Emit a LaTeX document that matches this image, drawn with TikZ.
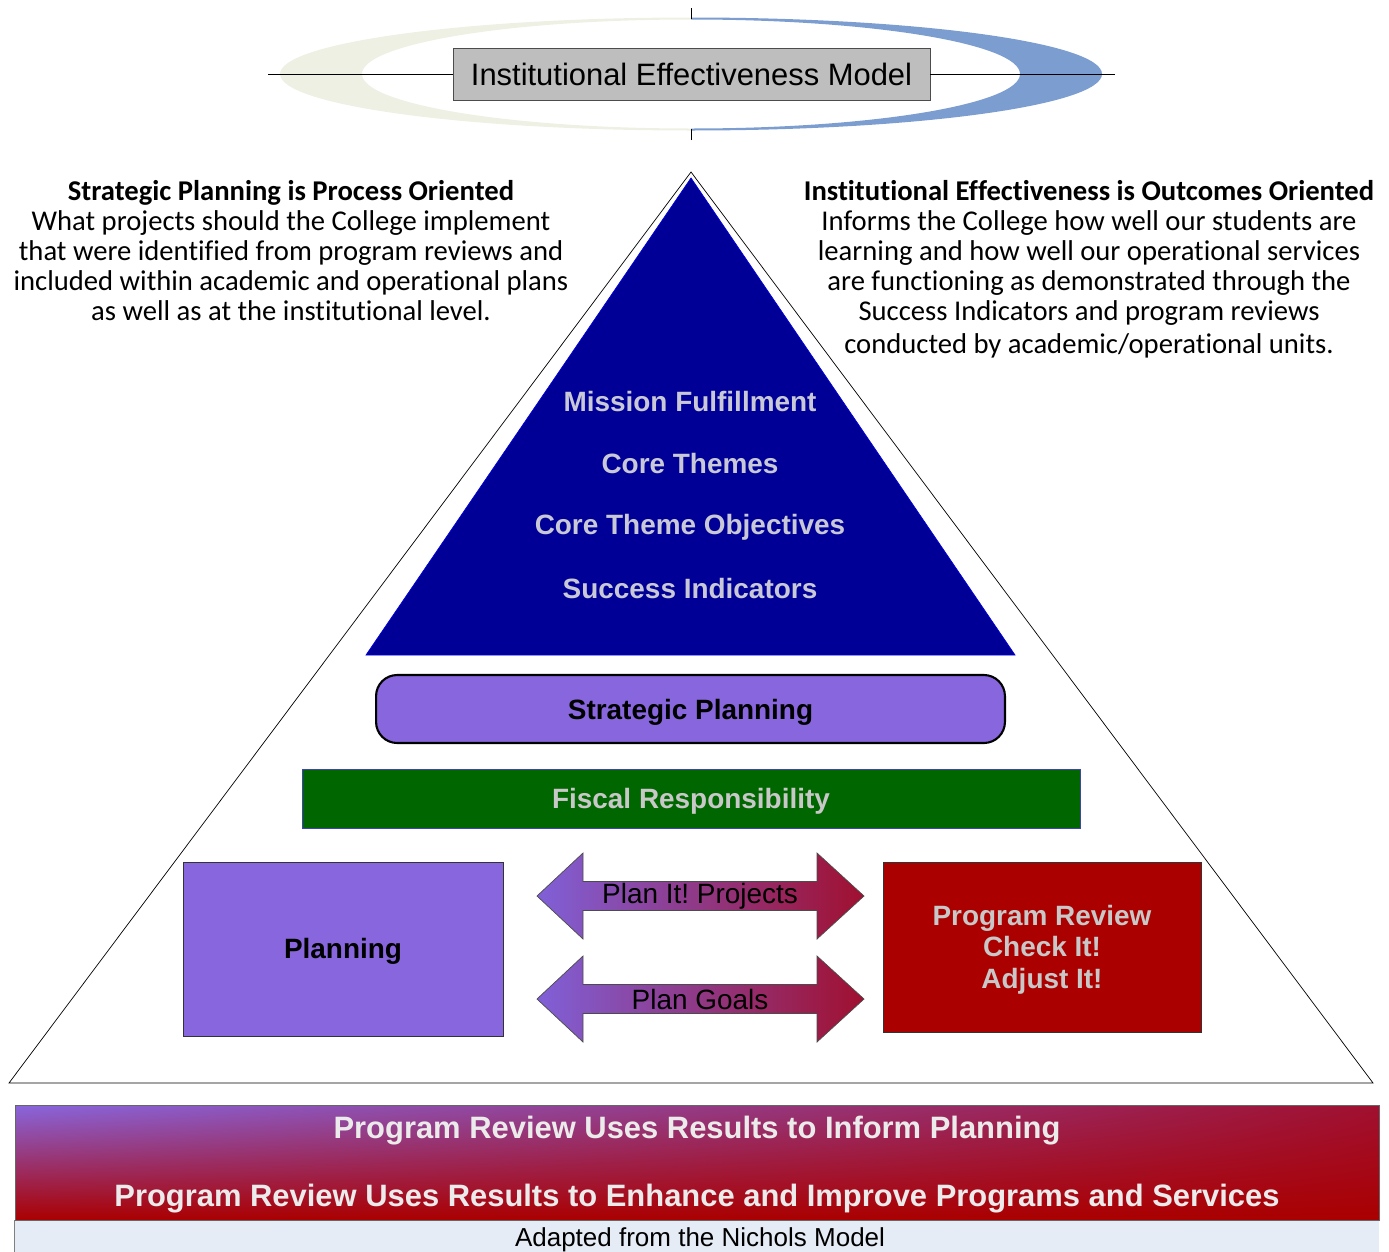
\documentclass[tikz,border=0pt]{standalone}
\usepackage{fontspec}
\setmainfont{Liberation Sans}
\newfontfamily\calibri[Ligatures=NoCommon]{Carlito}
\usetikzlibrary{positioning,shadings}

\definecolor{navytri}{RGB}{0,0,150}
\definecolor{lilac}{RGB}{136,102,221}
\definecolor{prgred}{RGB}{170,0,0}
\definecolor{fiscalgreen}{RGB}{0,102,0}
\definecolor{ringblue}{RGB}{124,157,207}
\definecolor{ringpale}{RGB}{238,240,228}
\definecolor{softgray}{RGB}{200,200,200}
\definecolor{trigray}{RGB}{200,200,215}
\definecolor{footblue}{RGB}{230,236,246}
\definecolor{arrowred}{RGB}{160,16,48}
\definecolor{arrowlilac}{RGB}{128,96,216}

\begin{document}
\begin{tikzpicture}[x=0.02cm,y=-0.02cm,
        big font/.style={font=\fontsize{15.9}{19}\selectfont\bfseries},
        plain font/.style={font=\fontsize{15.9}{19}\selectfont},
        tri label/.style={big font, text=trigray},
        layer box/.style={draw, inner sep=0pt, big font},
        note text/.style={align=center, font=\calibri\fontsize{16.3}{17.07}\selectfont},
        arrow body/.style={left color=arrowlilac, right color=arrowred, draw=black!70, thin}]
        \useasboundingbox (0,0) rectangle (1389,1251);

        % ring round the title
        \begin{scope}
        \clip (0,0) rectangle (691,150);
        \fill[ringpale, even odd rule] (691,74) ellipse [x radius=411, y radius=56.5] (691,74) ellipse [x radius=329, y radius=54.5];
        \end{scope}
        \begin{scope}
        \clip (691,0) rectangle (1389,150);
        \fill[ringblue, even odd rule] (691,74) ellipse [x radius=411, y radius=56.5] (691,74) ellipse [x radius=329, y radius=54.5];
        \end{scope}
        \coordinate (lineL) at (268,74);
        \coordinate (lineR) at (1115,74);
        \coordinate (tickT) at (691,8);
        \coordinate (tickB) at (691,140);
        \node[draw=black!70, fill=softgray!95!black, minimum width=9.54cm, minimum height=1.04cm, inner sep=0pt,
              font=\fontsize{17.6}{20}\selectfont] (title) at (691.5,74) {Institutional Effectiveness Model};
        \draw[thin] (lineL) -- (title.west) (title.east) -- (lineR);
        \draw[thin] (tickT) -- ++(0,11) (tickB) -- ++(0,-11);

        % the pyramid
        \coordinate (apex) at (691,172);
        \coordinate (baseL) at (9,1083);
        \coordinate (baseR) at (1373,1083);
        \draw[thin] (apex) -- (baseR) -- (baseL) -- cycle;
        \coordinate (topA) at (691,178);
        \coordinate (topL) at (366,655);
        \coordinate (topR) at (1015,655);
        \fill[navytri, draw=blue!70!navytri, thin] (topA) -- (topR) -- (topL) -- cycle;
        \node[tri label] (mission) at (690,402) {Mission Fulfillment};
        \node[tri label] (themes) at (690,464) {Core Themes};
        \node[tri label] (objectives) at (690,527.5) {Core Theme Objectives};
        \node[tri label] (indicators) at (690,589) {Success Indicators};

        \node[layer box, fill=lilac, very thick, rounded corners=12pt, minimum width=12.58cm, minimum height=1.36cm, text depth=0pt] (strategic) at (690.5,709) {Strategic Planning};
        \node[layer box, fill=fiscalgreen, draw=blue!50!gray, text=softgray, minimum width=15.56cm, minimum height=1.18cm, text depth=0pt] (fiscal) at (691,798.5) {Fiscal Responsibility};
        \node[layer box, fill=lilac, draw=black!80, minimum width=6.4cm, minimum height=3.48cm] (planning) at (343,949) {};
        \node[big font] (planlabel) at (343,951.5) {Planning};
        \node[layer box, fill=prgred, draw=black!80, minimum width=6.36cm, minimum height=3.4cm] (review) at (1042,947) {};
        \node[text=softgray, align=center, font=\fontsize{15.9}{17.9}\selectfont\bfseries] (checkit) at (1042,949.5) {Program Review\\Check It!\\Adjust It!};

        \foreach \yc/\txt/\nm in {896/Plan It!\ Projects/projects, 999/Plan Goals/goals} {
            \shade[arrow body] (537,\yc) -- (583,{\yc-43}) -- (583,{\yc-14.5}) -- (817,{\yc-14.5}) -- (817,{\yc-43}) -- (864,\yc)
                -- (817,{\yc+43}) -- (817,{\yc+14.5}) -- (583,{\yc+14.5}) -- (583,{\yc+43}) -- cycle;
            \node[plain font] (\nm) at (700,{\yc+0.5}) {\txt};
        }

        % side notes
        \node[note text] (process) at (291,251) {\bfseries Strategic Planning is Process Oriented\\
            What projects should the College implement\\
            that were identified from program reviews and\\
            included within academic and operational plans\\
            as well as at the institutional level.};
        \node[note text] (outcomes) at (1089,269) {\bfseries Institutional Effectiveness is Outcomes Oriented\\
            Informs the College how well our students are\\
            learning and how well our operational services\\
            are functioning as demonstrated through the\\
            Success Indicators and program reviews\\[1.9pt]
            conducted by academic/operational units.};

        % banner at the foot
        \node[shade, upper left=lilac, upper right=arrowred, lower left=prgred, lower right=prgred, draw=black!60, thin,
              minimum width=27.28cm, minimum height=2.3cm, inner sep=0pt] (banner) at (697,1162.5) {};
        \node[font=\fontsize{17.6}{20}\selectfont\bfseries, text=black!8] (inform) at (697,1131) {Program Review Uses Results to Inform Planning};
        \node[font=\fontsize{17.6}{20}\selectfont\bfseries, text=black!8] (enhance) at (697,1199) {Program Review Uses Results to Enhance and Improve Programs and Services};
        \node[fill=footblue, minimum width=27.28cm, minimum height=0.62cm, inner sep=0pt] (foot) at (697,1236) {};
        \draw[black!50, thin] (foot.north west) -- (foot.south west);
        \node[font=\fontsize{14.8}{17}\selectfont] (nichols) at (700,1239.5) {Adapted from the Nichols Model};
\end{tikzpicture}
\end{document}
